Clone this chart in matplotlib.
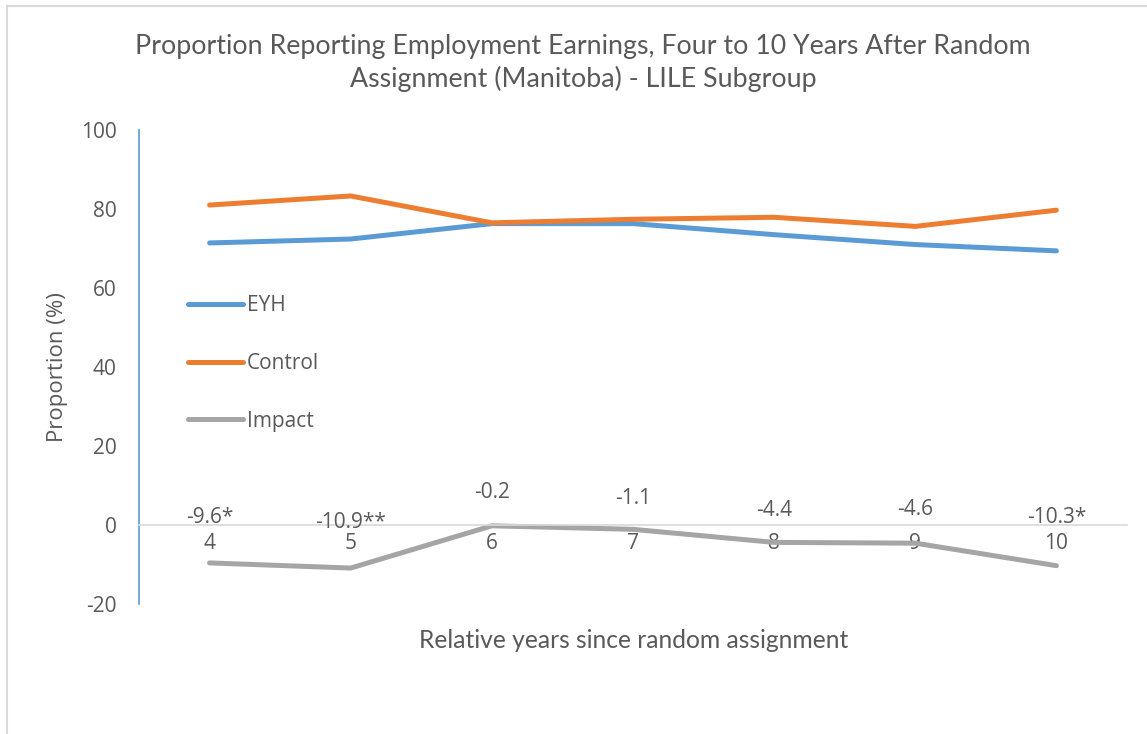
import matplotlib
matplotlib.use("Agg")
import matplotlib.pyplot as plt
from matplotlib.lines import Line2D

plt.rcParams['font.family'] = ['Open Sans', 'DejaVu Sans']
plt.rcParams['axes.unicode_minus'] = False

years = ["4", "5", "6", "7", "8", "9", "10"]
eyh = [71.4, 72.4, 76.3, 76.3, 73.5, 71.0, 69.4]
control = [81.0, 83.3, 76.5, 77.4, 77.9, 75.6, 79.7]
impact = [-9.6, -10.9, -0.2, -1.1, -4.4, -4.6, -10.3]
impact_labels = ["-9.6*", "-10.9**", "-0.2", "-1.1", "-4.4", "-4.6", "-10.3*"]
yticks = [-20, 0, 20, 40, 60, 80, 100]

TXT = "#595959"
NARROW = ['Lato', 'DejaVu Sans']
W, H = 1147, 734
fig = plt.figure(figsize=(W / 100, H / 100), dpi=100)
ax = fig.add_axes([139 / W, 1 - 604 / H, (1127 - 139) / W, (604 - 130) / H])

x = list(range(len(years)))
lw = 3.6
ax.plot(x, eyh, color="#5b9bd5", lw=lw, solid_capstyle="round", solid_joinstyle="round", label="EYH")
ax.plot(x, control, color="#ed7d31", lw=lw, solid_capstyle="round", solid_joinstyle="round", label="Control")
ax.plot(x, impact, color="#a5a5a5", lw=lw, solid_capstyle="round", solid_joinstyle="round", label="Impact")

offsets = [33, 33, 24, 22, 23, 24, 35]
for xi, v, lab, off in zip(x, impact, impact_labels, offsets):
    ax.annotate(lab, (xi, v), xytext=(0, off), textcoords="offset points",
                ha="center", va="center", fontsize=15, color=TXT)

ax.set_xlim(-0.5, len(years) - 0.5)
ax.set_ylim(-20, 100)
ax.set_yticks(yticks)
ax.set_xticks(x)
ax.set_xticklabels(years)

for s in ["top", "right"]:
    ax.spines[s].set_visible(False)
ax.spines["left"].set_color("#5b9bd5")
ax.spines["left"].set_linewidth(1.2)
ax.spines["bottom"].set_position(("data", 0))
ax.spines["bottom"].set_color("#d9d9d9")
ax.spines["bottom"].set_linewidth(1.2)
ax.tick_params(axis="both", length=0, labelsize=15, labelcolor=TXT)
ax.tick_params(axis="y", pad=16)
ax.tick_params(axis="x", pad=5.5)

leg = ax.legend(loc="upper left", bbox_to_anchor=(188 / W, 1 - 295 / H),
                bbox_transform=fig.transFigure, frameon=False, fontsize=15,
                handlelength=2.64, handletextpad=0.2, labelspacing=1.77,
                borderpad=0, borderaxespad=0, labelcolor=TXT)

fig.text(583 / W, 1 - 63 / H,
         "Proportion Reporting Employment Earnings, Four to 10 Years After Random\nAssignment (Manitoba) - LILE Subgroup",
         ha="center", va="center", fontsize=19.3, color=TXT, linespacing=1.35,
         family=NARROW)
fig.text(58 / W, 1 - 367 / H, "Proportion (%)", rotation=90, ha="center", va="center",
         fontsize=16, color=TXT)
fig.text(634 / W, 1 - 641 / H, "Relative years since random assignment", ha="center",
         va="center", fontsize=17.7, color=TXT, family=NARROW)

# chart area border
fig.add_artist(Line2D([7 / W, 7 / W], [0, 1 - 6 / H], transform=fig.transFigure,
                      color="#d9d9d9", lw=1.5))
fig.add_artist(Line2D([7 / W, 1], [1 - 6 / H, 1 - 6 / H], transform=fig.transFigure,
                      color="#d9d9d9", lw=1.5))

fig.savefig("out.png", dpi=100, facecolor="white")
